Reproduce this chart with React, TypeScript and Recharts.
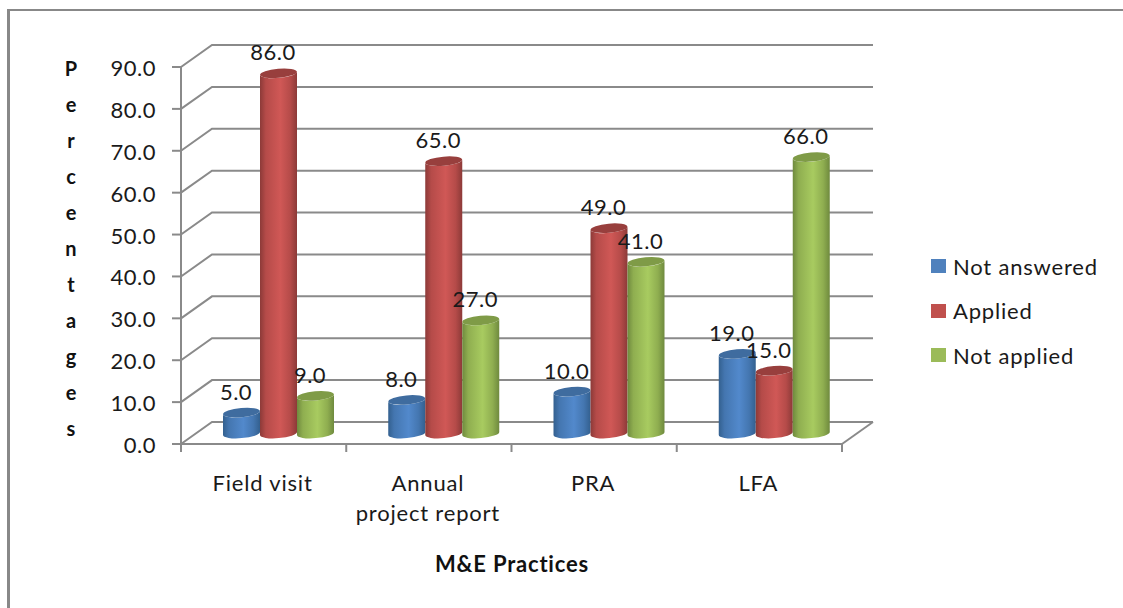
import React from 'react';
import { BarChart, Bar, XAxis, YAxis, CartesianGrid, Legend, LabelList } from 'recharts';

const categories = ['Field visit', 'Annual project report', 'PRA', 'LFA'];
const notAnswered = [5, 8, 10, 19];
const applied = [86, 65, 49, 15];
const notApplied = [9, 27, 41, 66];
const valueTicks = [0, 10, 20, 30, 40, 50, 60, 70, 80, 90];
const xTitle = 'M&E Practices';
const yTitle = 'Percentages';

const rows = categories.map((name, i) => ({
  name,
  notAnswered: notAnswered[i],
  applied: applied[i],
  notApplied: notApplied[i],
}));

const FONT = 'Lato, sans-serif';
const FONT_SIZE = 22;
const TRACKING = 0.5;
const WORD_TRACKING = 0.8;
const AXIS = '#8a8a8a';
const TEXT = '#1a1a1a';
const DEPTH_X = 31;
const DEPTH_Y = 22;
const BAR_SHIFT_X = 15;
const BAR_SHIFT_Y = -10.5;

const palette = {
  blue: { base: '#4f81bd', edge: '#33608f', soft: '#4476b0', mid: '#5289cc', cap: '#3f6c9f' },
  red: { base: '#c0504d', edge: '#8c3a38', soft: '#b54b49', mid: '#d05856', cap: '#983f3d' },
  green: { base: '#9bbb59', edge: '#6f8a3e', soft: '#8fae50', mid: '#a8cb60', cap: '#7f9b47' },
};

type Tone = keyof typeof palette;

const Gradients = () => (
  <defs>
    {(Object.keys(palette) as Tone[]).map((k) => (
      <linearGradient key={k} id={`cyl-${k}`} x1="0" y1="0" x2="1" y2="0">
        <stop offset="0" stopColor={palette[k].edge} />
        <stop offset="0.16" stopColor={palette[k].soft} />
        <stop offset="0.55" stopColor={palette[k].mid} />
        <stop offset="0.82" stopColor={palette[k].soft} />
        <stop offset="1" stopColor={palette[k].edge} />
      </linearGradient>
    ))}
  </defs>
);

// Tilted cylinder standing on the chart floor, pushed back to mid depth.
const cylinder = (tone: Tone) => (props: any) => {
  const { x, y, width, height } = props;
  const r = width / 2;
  const cx = x + r + BAR_SHIFT_X;
  const top = y + BAR_SHIFT_Y;
  const base = y + height + BAR_SHIFT_Y;
  const ry = 4.6;
  const tilt = 1.6;
  const rot = -5;
  const d =
    `M${cx - r},${top + tilt} L${cx - r},${base + tilt} ` +
    `A${r},${ry} ${rot} 0 0 ${cx + r},${base - tilt} ` +
    `L${cx + r},${top - tilt} ` +
    `A${r},${ry} ${rot} 0 1 ${cx - r},${top + tilt} Z`;
  return (
    <g>
      <path d={d} fill={`url(#cyl-${tone})`} />
      <ellipse
        cx={cx}
        cy={top}
        rx={r}
        ry={ry}
        fill={palette[tone].cap}
        transform={`rotate(${rot} ${cx} ${top})`}
      />
    </g>
  );
};

const valueLabel = (props: any) => {
  const { x, y, width, value } = props;
  return (
    <text
      x={x + width / 2 + BAR_SHIFT_X - 5.5}
      y={y - 23.5}
      textAnchor="middle"
      fontFamily={FONT}
      fontSize={FONT_SIZE}
      letterSpacing={TRACKING}
      fill={TEXT}
    >
      {Number(value).toFixed(1)}
    </text>
  );
};

// Each gridline runs up the side wall and then along the back wall.
const wallLine = (props: any) => {
  const { x1, x2, y1, index } = props;
  const bx = x1 + DEPTH_X;
  const by = y1 - DEPTH_Y;
  const stroke = { stroke: AXIS, strokeWidth: 2, fill: 'none' };
  return (
    <g key={`wall-${index}`}>
      <polyline points={`${x1},${y1} ${bx},${by} ${x2 + DEPTH_X},${by}`} {...stroke} />
      {Math.abs(y1 - 444) < 1 && <line x1={x2} y1={y1} x2={x2 + DEPTH_X} y2={by} {...stroke} />}
    </g>
  );
};

const CategoryTick = (props: any) => {
  const { x, payload, index } = props;
  const band = 661 / categories.length;
  const text: string = payload.value;
  const split = text.indexOf(' ');
  const lines = text.length > 15 ? [text.slice(0, split), text.slice(split + 1)] : [text];
  return (
    <g>
      <line x1={x - band / 2} y1={444} x2={x - band / 2} y2={452} stroke={AXIS} strokeWidth={2} />
      {index === categories.length - 1 && (
        <line x1={x + band / 2} y1={444} x2={x + band / 2} y2={452} stroke={AXIS} strokeWidth={2} />
      )}
      {lines.map((line, i) => (
        <text
          key={line}
          x={x - 1}
          y={491 + i * 30}
          textAnchor="middle"
          fontFamily={FONT}
          fontSize={FONT_SIZE}
          letterSpacing={WORD_TRACKING}
          fill={TEXT}
        >
          {line}
        </text>
      ))}
    </g>
  );
};

const ValueTick = (props: any) => {
  const { y, payload } = props;
  return (
    <text
      x={156}
      y={y + 9}
      textAnchor="end"
      fontFamily={FONT}
      fontSize={FONT_SIZE}
      letterSpacing={TRACKING}
      fill={TEXT}
    >
      {Number(payload.value).toFixed(1)}
    </text>
  );
};

const VerticalTitle = () => (
  <g>
    {yTitle.split('').map((ch, i) => (
      <text
        key={i}
        x={71}
        y={76 + i * 36}
        textAnchor="middle"
        fontFamily={FONT}
        fontWeight={700}
        fontSize={20}
        fill="#111"
      >
        {ch}
      </text>
    ))}
  </g>
);

const HorizontalTitle = () => (
  <text
    x={512}
    y={572}
    textAnchor="middle"
    fontFamily={FONT}
    fontWeight={700}
    fontSize={22}
    letterSpacing={0.8}
    fill="#111"
  >
    {xTitle}
  </text>
);

const LegendBox = ({ payload }: any) => (
  <div style={{ fontFamily: FONT, fontSize: FONT_SIZE, letterSpacing: WORD_TRACKING, color: TEXT }}>
    {payload.map((item: any) => (
      <div key={item.value} style={{ display: 'flex', alignItems: 'center', height: 44.5 }}>
        <span style={{ width: 15, height: 14, background: item.color, marginRight: 7 }} />
        <span>{item.value}</span>
      </div>
    ))}
  </div>
);

export default function App() {
  return (
    <div style={{ position: 'absolute', left: 0, top: 0, width: 1123, height: 608, overflow: 'hidden', background: '#fff' }}>
      <div
        style={{
          position: 'absolute',
          left: 7,
          top: 9,
          right: 0,
          bottom: 0,
          borderLeft: '3px solid #888',
          borderTop: '2px solid #888',
        }}
      />
      <div style={{ position: 'absolute', left: 0, top: 0 }}>
        <BarChart
          width={1123}
          height={608}
          data={rows}
          margin={{ left: 180, right: 281, top: 67, bottom: 163 }}
          barSize={37}
          barGap={0}
          style={{ background: 'transparent' }}
        >
          <Gradients />
          <CartesianGrid vertical={false} horizontal={wallLine} />
          <XAxis
            dataKey="name"
            height={1}
            interval={0}
            axisLine={{ stroke: AXIS, strokeWidth: 2 }}
            tickLine={false}
            tick={<CategoryTick />}
            label={<HorizontalTitle />}
          />
          <YAxis
            width={1}
            domain={[0, 90]}
            ticks={valueTicks}
            interval={0}
            axisLine={{ stroke: AXIS, strokeWidth: 2 }}
            tickLine={{ stroke: AXIS, strokeWidth: 2 }}
            tickSize={9}
            tick={<ValueTick />}
            label={<VerticalTitle />}
          />
          <Legend
            layout="vertical"
            verticalAlign="middle"
            align="center"
            itemSorter={null}
            wrapperStyle={{ left: 931, top: 244, width: 180 }}
            content={<LegendBox />}
          />
          <Bar dataKey="notAnswered" name="Not answered" fill={palette.blue.base} shape={cylinder('blue')} isAnimationActive={false}>
            <LabelList dataKey="notAnswered" content={valueLabel} />
          </Bar>
          <Bar dataKey="applied" name="Applied" fill={palette.red.base} shape={cylinder('red')} isAnimationActive={false}>
            <LabelList dataKey="applied" content={valueLabel} />
          </Bar>
          <Bar dataKey="notApplied" name="Not applied" fill={palette.green.base} shape={cylinder('green')} isAnimationActive={false}>
            <LabelList dataKey="notApplied" content={valueLabel} />
          </Bar>
        </BarChart>
      </div>
    </div>
  );
}
